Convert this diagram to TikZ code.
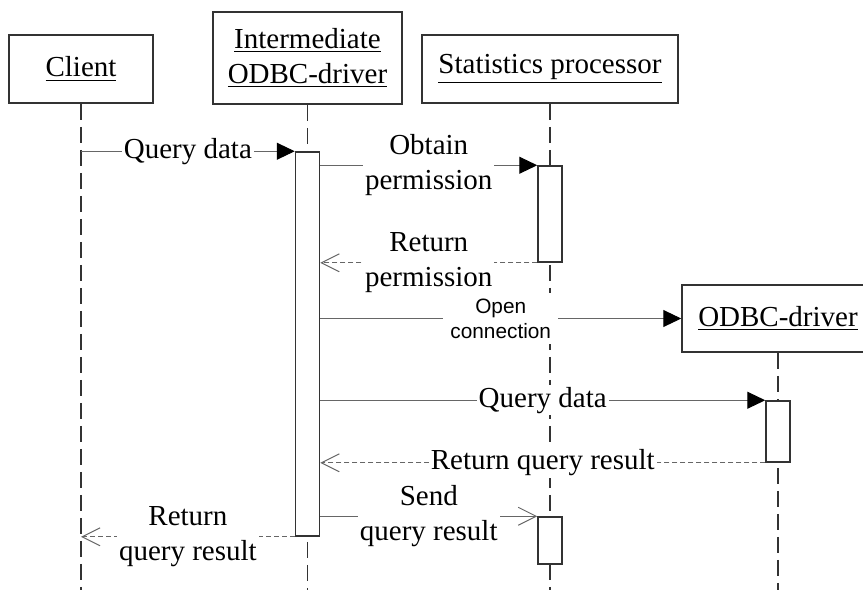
\documentclass[tikz,border=0pt]{standalone}
\usepackage{fontspec}
\setmainfont{Liberation Serif}
\newfontfamily\sansfont{Liberation Sans}
\usepackage{tikz}
\usetikzlibrary{arrows.meta}
\tikzstyle{obj}=[
        draw=black!80,
        line width=0.75pt,
        fill=white,
        align=center,
        minimum height=34pt,
        font=\fontsize{14.5}{17.4}\selectfont
]
\tikzstyle{bar}=[draw=black!80,line width=0.75pt,fill=white,minimum width=12pt,inner sep=0pt]
\tikzstyle{life}=[draw=black!80,line width=0.75pt,dash pattern=on 8pt off 3.5pt]
\tikzstyle{lbl}=[fill=white,inner xsep=1pt,inner ysep=1pt,align=center,font=\fontsize{14.5}{17.4}\selectfont]
\tikzstyle{small}=[fill=white,inner xsep=3.5pt,inner ysep=3pt,align=center,font=\sansfont\fontsize{10.4}{12.5}\selectfont]
\tikzstyle{msg}=[draw=black!60,line width=0.5pt,-{Triangle[length=9pt,width=8.5pt,color=black]}]
\tikzstyle{send}=[draw=black!60,line width=0.5pt,-{Straight Barb[length=9pt,width=9pt]}]
\tikzstyle{ret}=[draw=black!60,line width=0.5pt,dash pattern=on 2.5pt off 1.5pt,-{Straight Barb[length=9pt,width=9pt]}]

\begin{document}
\begin{tikzpicture}[x=0.5pt,y=-0.5pt]
\useasboundingbox (0,0) rectangle (863,590);
\node[obj,minimum width=72pt] (client) at (81,69) {\underline{Client}};
\node[obj,minimum width=94.5pt,minimum height=46pt] (inter) at (307.5,58) {\underline{Intermediate}\\\underline{ODBC-driver}};
\node[obj,minimum width=128pt] (stats) at (550,69) {\underline{Statistics processor}};
\node[obj,minimum width=96pt,minimum height=33.5pt] (odbc) at (778,318.5) {\underline{ODBC-driver}};
\coordinate (endC) at (81,590);
\coordinate (endI) at (307.5,590);
\coordinate (endS) at (550,590);
\coordinate (endO) at (778,590);
%Lifelines
\draw[life] (client) -- (endC);
\draw[life] (inter) -- (endI);
\draw[life] (stats) -- (endS);
\draw[life] (odbc) -- (endO);
%Activation bars
\node[bar,minimum height=192pt] (barI) at (307.5,344) {};
\node[bar,minimum height=48pt] (barS) at (550,214) {};
\node[bar,minimum height=30.5pt] (barO) at (778,431.5) {};
\node[bar,minimum height=23.5pt] (barS2) at (550,540.5) {};
%Drawing Messages
\draw[msg] (client |- barI.north west) -- (barI.north west) node[lbl,midway]{Query data};
\draw[msg] (barI.east |- barS.north west) -- (barS.north west) node[lbl,midway]{Obtain\\permission};
\draw[ret] (barS.south west) -- (barI.east |- barS.south west) node[lbl,midway]{Return\\permission};
\draw[msg] (barI.east |- odbc.west) -- (odbc.west) node[small,midway]{Open\\connection};
\draw[msg] (barI.east |- barO.north west) -- (barO.north west) node[lbl,midway]{Query data};
\draw[ret] (barO.south west) -- (barI.east |- barO.south west) node[lbl,midway]{Return query result};
\draw[send] (barI.east |- barS2.north west) -- (barS2.north west) node[lbl,midway]{Send\\query result};
\draw[ret] (barI.south west) -- (client |- barI.south west) node[lbl,midway]{Return\\query result};
\end{tikzpicture}
\end{document}
